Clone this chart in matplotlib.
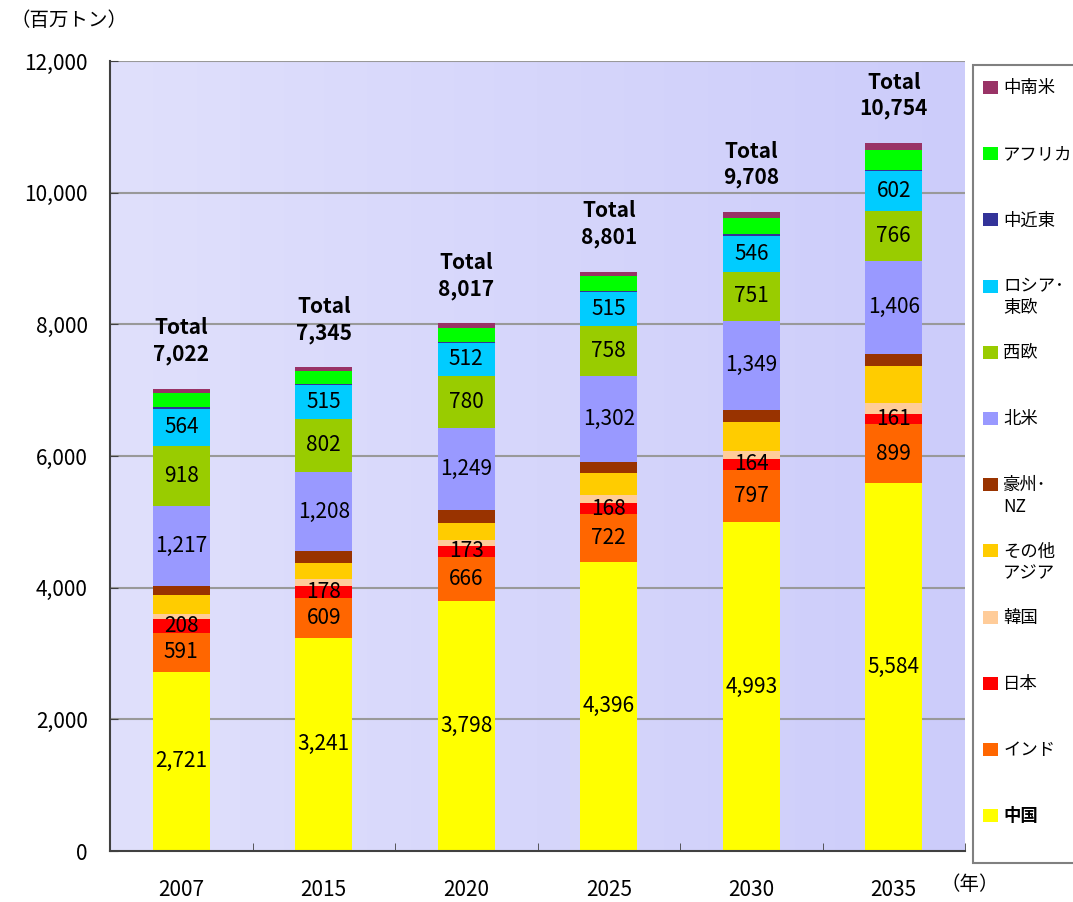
import numpy as np
import matplotlib.pyplot as plt
from matplotlib.patches import Rectangle

plt.rcParams['font.family'] = ['Noto Sans CJK JP', 'DejaVu Sans']

years = ['2007', '2015', '2020', '2025', '2030', '2035']
totals = [7022, 7345, 8017, 8801, 9708, 10754]

# bottom to top
regions = ['中国', 'インド', '日本', '韓国', 'その他\nアジア', '豪州・\nNZ',
           '北米', '西欧', 'ロシア・\n東欧', '中近東', 'アフリカ', '中南米']
colors = ['#FFFF00', '#FF6600', '#FF0000', '#FFCC99', '#FFCC00', '#993300',
          '#9999FF', '#99CC00', '#00CCFF', '#333399', '#00FF00', '#993366']

china = [2721, 3241, 3798, 4396, 4993, 5584]
india = [591, 609, 666, 722, 797, 899]
japan = [208, 178, 173, 168, 164, 161]
korea = [73, 100, 90, 120, 120, 160]
other_asia = [290, 245, 260, 330, 448, 570]
australia = [135, 180, 195, 180, 180, 180]
north_america = [1217, 1208, 1249, 1302, 1349, 1406]
west_europe = [918, 802, 780, 758, 751, 766]
russia = [564, 515, 512, 515, 546, 602]
middle_east = [30, 10, 10, 15, 25, 10]
africa = [215, 210, 210, 230, 240, 310]
latin = [60, 47, 74, 65, 95, 106]

series = [china, india, japan, korea, other_asia, australia,
          north_america, west_europe, russia, middle_east, africa, latin]
labeled = {'中国', 'インド', '日本', '北米', '西欧', 'ロシア・\n東欧'}

fig = plt.figure(figsize=(10.73, 9.02), dpi=100)
ax = fig.add_axes([110/1073, 51/902, 855/1073, 790/902])

x = np.arange(len(years))
ax.set_xlim(-0.5, len(years) - 0.5)
ax.set_ylim(0, 12000)

# gradient background
grad = np.linspace(0, 1, 256).reshape(1, -1)
left_c = np.array([224, 224, 252]) / 255
right_c = np.array([204, 204, 250]) / 255
img = left_c + (right_c - left_c) * grad[..., None]
ax.imshow(img, extent=[-0.5, len(years) - 0.5, 0, 12000], aspect='auto', zorder=0)

for yv in range(2000, 12001, 2000):
    ax.axhline(yv, color='#999999', lw=1.5, zorder=1)

bottom = np.zeros(len(years))
for name, vals, col in zip(regions, series, colors):
    vals = np.array(vals)
    ax.bar(x, vals, width=0.4, bottom=bottom, color=col, zorder=2)
    if name in labeled:
        for xi, b, v in zip(x, bottom, vals):
            ax.text(xi, b + v / 2, f'{v:,}', ha='center', va='center',
                    fontsize=15, zorder=3)
    bottom = bottom + vals

for xi, top, tot in zip(x, bottom, totals):
    ax.annotate(f'Total\n{tot:,}', (xi, top), xytext=(0, 17),
                textcoords='offset points', ha='center', va='bottom',
                fontsize=15, fontweight='bold', linespacing=1.3)

ax.set_yticks(range(0, 12001, 2000))
ax.set_yticklabels([f'{v:,}' for v in range(0, 12001, 2000)], fontsize=15)
ax.set_xticks(x)
ax.set_xticklabels(years, fontsize=15)
ax.set_xticks(np.arange(-0.5, len(years)), minor=True)
ax.tick_params(axis='x', which='major', length=0, pad=20)
ax.tick_params(axis='x', which='minor', direction='in', length=6, color='#404040')
ax.tick_params(axis='y', direction='in', length=6, color='#404040', pad=16)

for s in ['top', 'right']:
    ax.spines[s].set_visible(False)
for s in ['left', 'bottom']:
    ax.spines[s].set_color('#404040')
    ax.spines[s].set_linewidth(1.5)
    ax.spines[s].set_zorder(4)

fig.text(10/1073, 1 - 20/902, '（百万トン）', fontsize=14, va='center', ha='left')
fig.text(940/1073, 1 - 884/902, '（年）', fontsize=14, va='center', ha='left')

# legend box
lax = fig.add_axes([973/1073, 39/902, 0.2, 798/902])
lax.set_xlim(0, 200)
lax.set_ylim(0, 798)
lax.axis('off')
lax.add_patch(Rectangle((0, 0), 250, 798, facecolor='white',
                        edgecolor='#808080', lw=1.5, clip_on=False))
for i, (name, col) in enumerate(zip(regions[::-1], colors[::-1])):
    yc = 798 - 23 - i * 66.2
    lax.add_patch(Rectangle((9, yc - 6), 14, 13, facecolor=col, edgecolor='none'))
    lax.text(28, yc + 9, name.replace('・', '･'), fontsize=12.5, va='top', ha='left',
             linespacing=1.25,
             fontweight='bold' if name == '中国' else 'normal')

fig.savefig('out.png', dpi=100)
